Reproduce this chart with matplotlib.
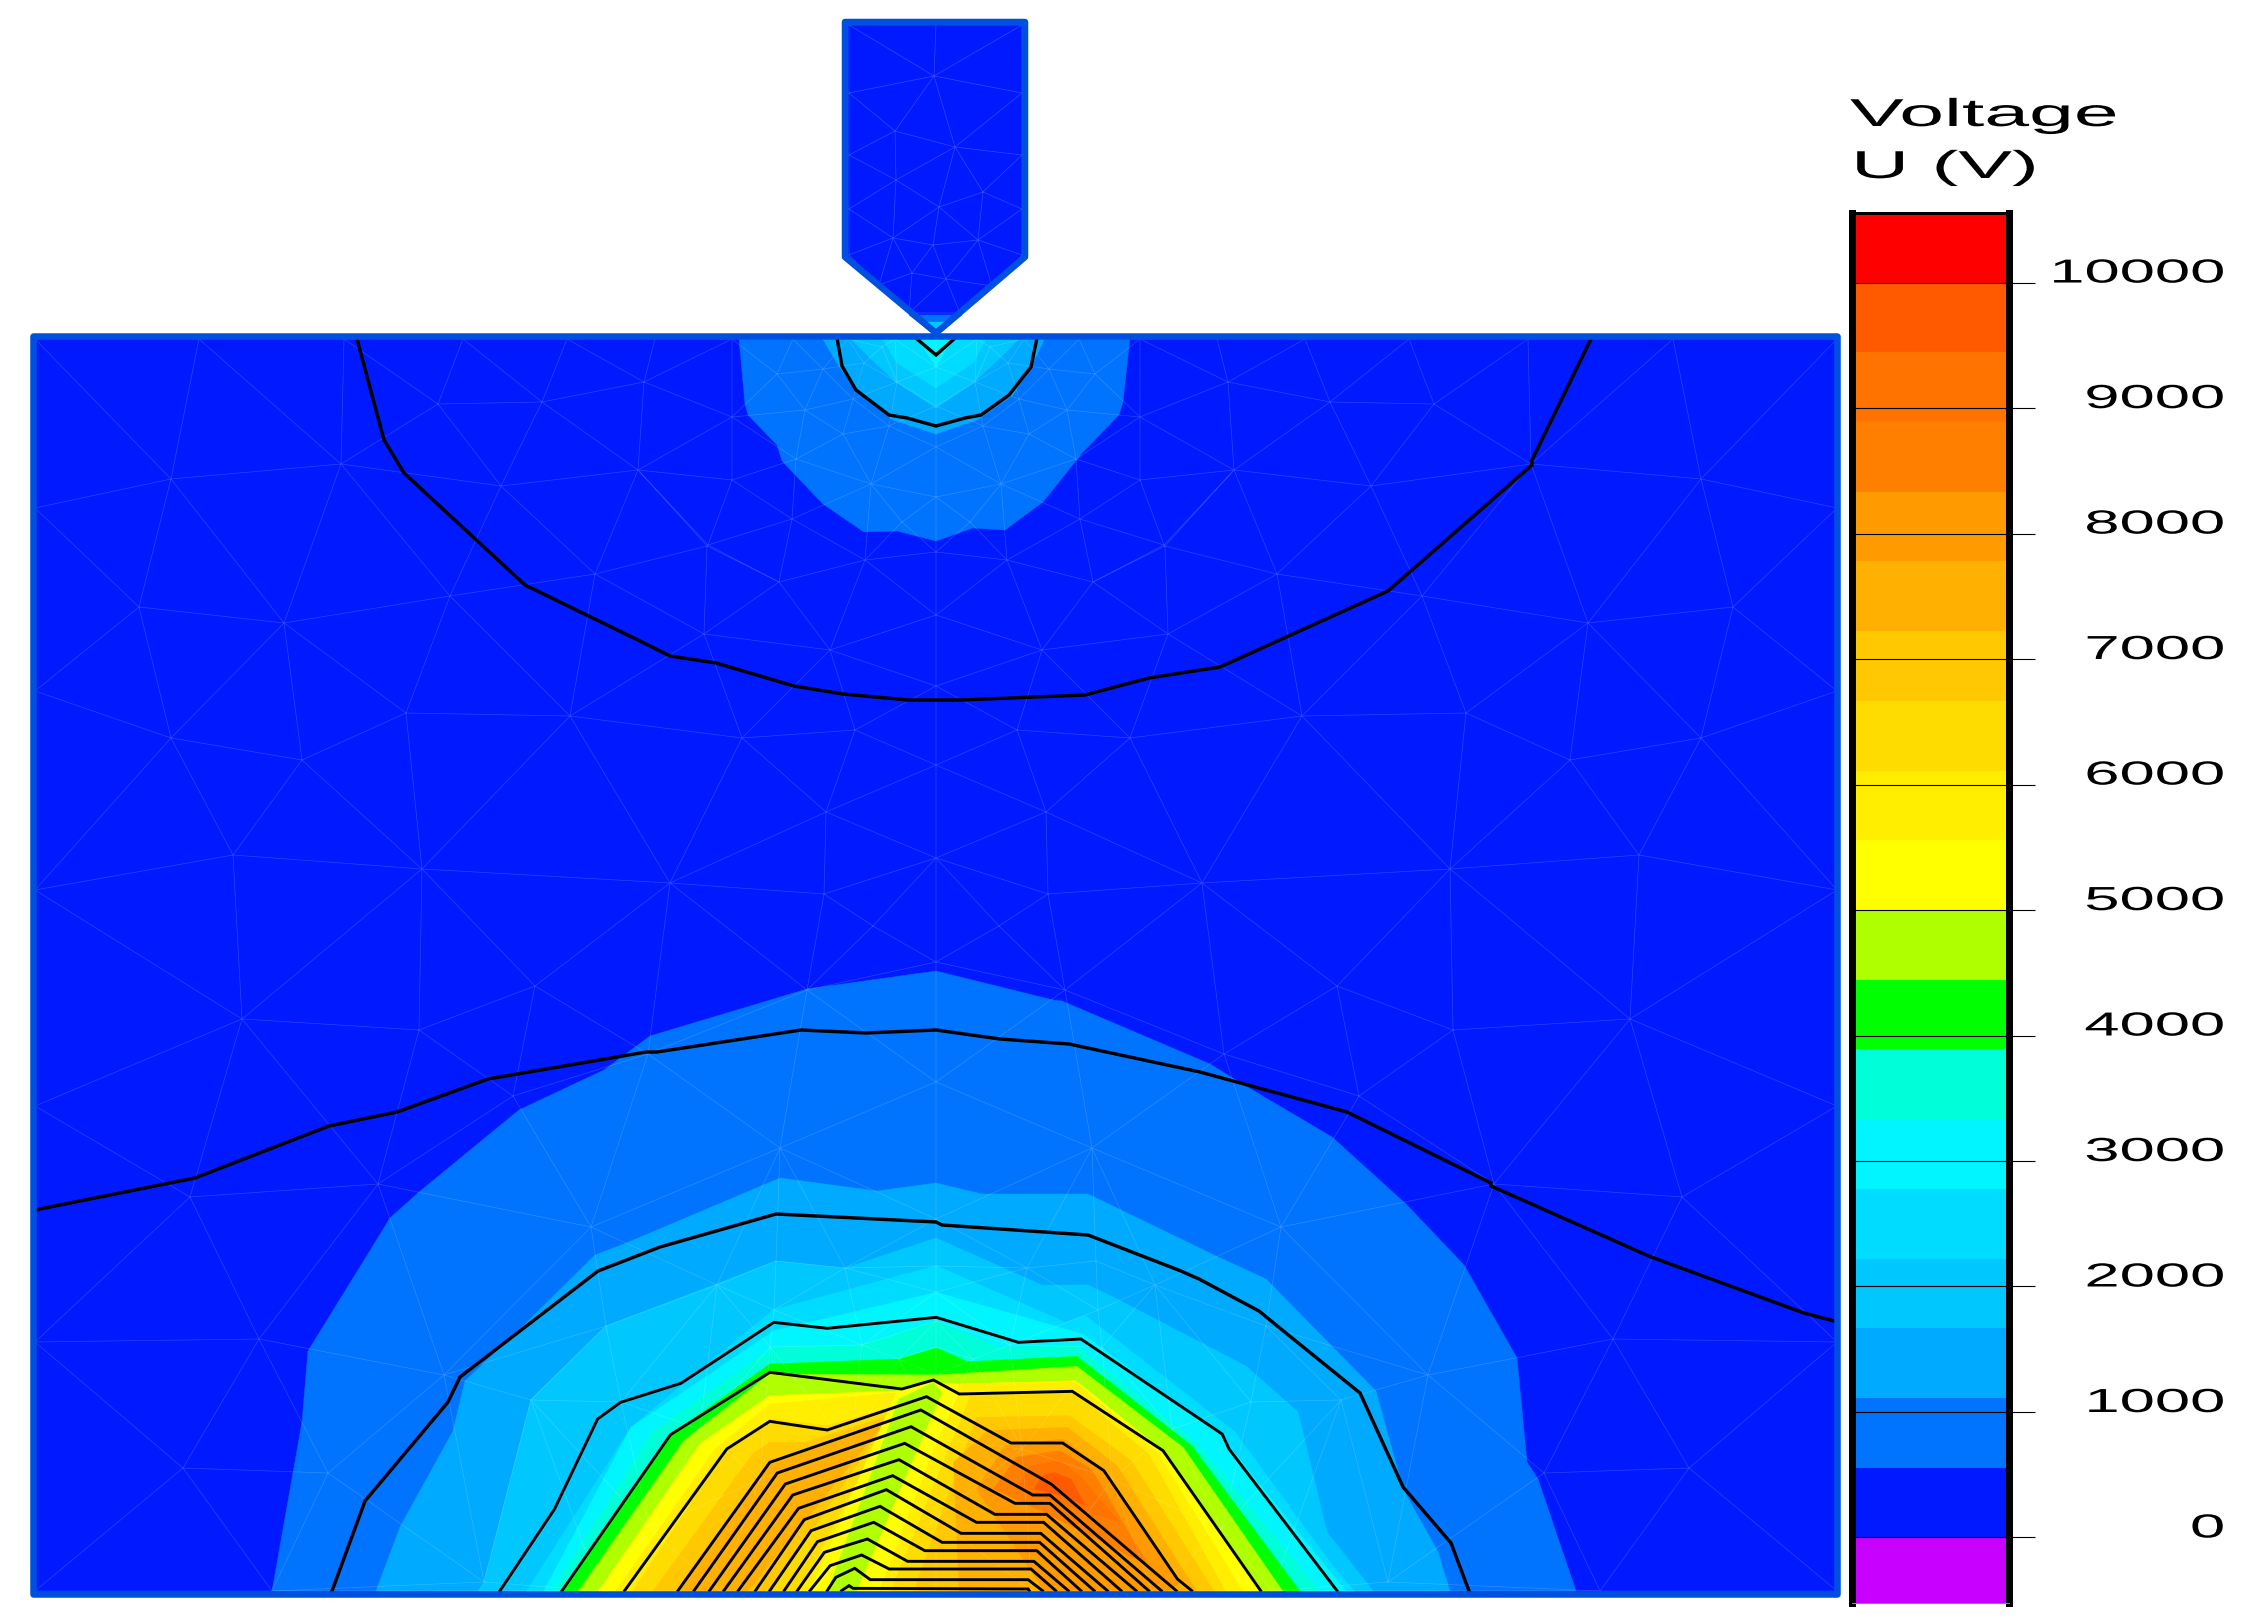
import matplotlib
matplotlib.use('Agg')
import matplotlib.pyplot as plt
import matplotlib.tri as mtri
import matplotlib.patheffects as pe
from matplotlib.patches import Polygon, Rectangle
from matplotlib.transforms import Affine2D, Bbox

plt.rcParams['font.family'] = ['Liberation Sans', 'DejaVu Sans']

W, H = 2264, 1624

# colour scale
tick_values = [0, 1000, 2000, 3000, 4000, 5000, 6000, 7000, 8000, 9000, 10000]
band_edges = [-522, 0, 556, 1111, 1667, 2222, 2778, 3333, 3889, 4444, 5000, 5556,
              6111, 6667, 7222, 7778, 8333, 8889, 9444, 10000, 10554]
band_colors = ['#c800ff', '#0019ff', '#0073ff', '#00aaff', '#00c8ff', '#00dcff', '#00f5ff',
               '#00ffd9', '#00ff00', '#b0ff00', '#ffff00', '#ffee00', '#ffdc00', '#ffc800',
               '#ffb000', '#ff9a00', '#ff8000', '#ff7300', '#ff5a00', '#ff0000']
BLUE, C1, C2, C3, C4, C5, TEAL, GREEN, LIME, YEL, Y1, Y2, Y3, O1, O2, O3, O4, O5 = band_colors[1:19]

# electrode and domain outlines (pixels of the picture)
electrode = [(845, 23), (1025, 23), (1025, 258), (936, 334), (845, 258)]
electrode_tip1 = [(909, 316), (962, 316), (936, 337)]
electrode_tip2 = [(925, 323), (947, 323), (936, 335)]
domain_x = [33, 1837]
domain_y = [337, 1595]

# mesh nodes, left half, mirrored about the centre line
mesh_left = [(35, 340), (199, 340), (344, 340), (463, 340), (567, 340), (655, 340), (732, 340), (793, 340),
             (848, 340), (895, 340), (35, 509), (35, 692), (35, 891), (35, 1107), (35, 1343), (35, 1592),
             (171, 480), (341, 465), (438, 405), (542, 403), (644, 383), (501, 487), (638, 471),
             (139, 608), (284, 624), (450, 597), (595, 575), (171, 739), (406, 714), (570, 717), (302, 761),
             (233, 856), (422, 870), (242, 1020), (419, 1031), (535, 987), (190, 1198), (378, 1185),
             (513, 1097), (591, 1228), (648, 1055), (707, 547), (792, 520), (865, 561), (779, 583),
             (704, 635), (830, 651), (742, 739), (855, 731), (826, 813), (670, 884), (824, 895), (873, 927),
             (807, 991), (780, 1149), (776, 1262), (845, 1269), (717, 1286), (606, 1327), (774, 1311),
             (531, 1401), (621, 1403), (862, 1346), (770, 1348), (899, 1360), (259, 1340), (183, 1469),
             (328, 1474), (444, 1376), (272, 1592), (484, 1583), (700, 1430), (760, 1480), (850, 1450),
             (650, 1530), (600, 1592), (720, 1592), (840, 1592), (777, 375), (823, 370), (805, 411),
             (732, 418), (732, 481), (796, 460), (843, 435), (853, 400), (864, 364), (871, 485),
             (708, 546), (897, 383), (889, 427), (902, 523), (882, 348)]
mesh_centre = [(936, 340), (936, 368), (936, 407), (936, 448), (936, 498), (936, 553), (936, 616), (936, 687),
               (936, 766), (936, 859), (936, 963), (936, 1083), (936, 1220), (936, 1267), (936, 1293),
               (936, 1322), (936, 1348), (936, 1376), (936, 1440), (936, 1520), (936, 1592)]
electrode_nodes = [(849, 26), (1022, 26), (936, 26), (849, 94), (1022, 94), (934, 77), (895, 132), (955, 148),
                   (849, 156), (1022, 156), (896, 181), (983, 193), (849, 210), (1022, 210), (939, 208),
                   (893, 239), (978, 241), (933, 246), (849, 256), (1022, 256), (912, 274), (946, 280),
                   (879, 286), (992, 287), (909, 314), (960, 314), (936, 334)]

# filled bands near the electrode
top_band1 = [(739, 339), (745, 405), (748, 416), (777, 446), (782, 462), (823, 505), (864, 533), (897, 532),
             (936, 542), (973, 529), (1005, 531), (1043, 503), (1083, 453), (1119, 416), (1123, 403), (1130, 339)]
top_band2 = [(822, 339), (837, 364), (855, 391), (893, 421), (936, 435), (977, 421), (1013, 396), (1033, 364), (1045, 339)]
top_band3 = [(850, 339), (870, 359), (897, 384), (936, 409), (973, 384), (1000, 359), (1020, 339)]
top_band4 = [(882, 339), (897, 364), (936, 389), (973, 364), (987, 339)]
top_band5 = [(917, 339), (936, 368), (953, 339)]

# filled bands of the lower dome
low_band1 = [(272, 1592), (293, 1474), (302, 1423), (308, 1352), (371, 1250), (390, 1219), (419, 1193), (519, 1111),
             (604, 1071), (650, 1037), (807, 990), (936, 972), (1053, 1001), (1062, 1002), (1210, 1065), (1244, 1086),
             (1332, 1138), (1406, 1205), (1464, 1266), (1517, 1359), (1527, 1463), (1538, 1480), (1576, 1592)]
low_band2 = [(376, 1592), (400, 1528), (453, 1432), (465, 1382), (520, 1330), (595, 1256), (624, 1245), (780, 1179),
             (877, 1192), (936, 1184), (982, 1195), (1088, 1195), (1216, 1257), (1266, 1280), (1315, 1330),
             (1376, 1392), (1403, 1490), (1438, 1553), (1450, 1592)]
low_band3 = [(478, 1592), (484, 1583), (531, 1400), (606, 1327), (776, 1262), (845, 1269), (936, 1239), (1042, 1286),
             (1088, 1286), (1117, 1300), (1246, 1367), (1298, 1413), (1327, 1533), (1373, 1592)]

core_band4 = [(45, 1030), (228, 535), (475, 183), (760, 50), (985, 220), (1020, 200), (1280, 548), (1446, 940), (1490, 1030)]
core_band5 = [(75, 1030), (228, 535), (477, 245), (760, 130), (905, 200), (1015, 255), (1255, 560), (1475, 1030)]
core_teal = [(90, 1030), (265, 550), (477, 295), (630, 288), (760, 217), (870, 295), (1005, 290), (1215, 585), (1430, 1030)]
core_green = [(108, 1030), (295, 560), (470, 345), (695, 330), (760, 297), (815, 338), (1005, 322), (1205, 590), (1395, 1030)]
core_lime = [(135, 1030), (320, 575), (470, 375), (760, 378), (1005, 352), (1190, 595), (1365, 1030)]
core_yellow = [(170, 1030), (348, 585), (470, 440), (700, 425), (755, 400), (800, 405), (1003, 395), (1155, 605), (1325, 1030)]

left_y1 = [(200, 1030), (375, 600), (470, 465), (700, 430), (540, 1030)]
left_y2 = [(230, 1030), (395, 600), (470, 510), (570, 530), (690, 470), (520, 1030)]
left_y3 = [(265, 1030), (440, 615), (470, 580), (530, 580), (680, 500), (470, 1030)]
left_o1 = [(310, 1030), (470, 640), (670, 520), (430, 1030)]

right_y1 = [(800, 405), (1003, 400), (1145, 610), (1295, 1030), (660, 1030)]
right_y2 = [(820, 440), (1000, 430), (1130, 615), (1265, 1030), (680, 1030)]
right_y3 = [(830, 505), (992, 500), (1100, 635), (1245, 1030), (720, 1030)]
right_o1 = [(850, 545), (988, 535), (1075, 650), (1215, 1030), (800, 1030), (790, 640)]
right_o2 = [(880, 590), (980, 570), (1050, 660), (1185, 1000), (1160, 1030), (950, 1030), (830, 720)]
right_o3 = [(900, 625), (975, 605), (1030, 660), (1130, 950), (960, 800), (860, 720)]
right_o4 = [(925, 650), (975, 635), (1010, 680), (1080, 820), (990, 770), (900, 720)]
right_o5 = [(945, 680), (965, 670), (995, 690), (1020, 770), (980, 740), (930, 720)]

strip_yellow = [(760, 395), (800, 430), (640, 1030), (540, 1030), (690, 430)]
strip_lime = [(755, 400), (770, 430), (620, 1030), (570, 1030), (695, 450)]

# contour lines
line_top_inner = [(917, 340), (936, 356), (954, 340)]
line_top_mid = [(837, 339), (842, 367), (856, 391), (889, 416), (907, 419), (936, 427), (965, 419), (981, 416),
                (1009, 396), (1031, 368), (1037, 339)]
line_top_outer = [(357, 340), (384, 441), (404, 474), (525, 586), (640, 642), (670, 657), (716, 664), (794, 687),
                  (843, 695), (908, 701), (961, 701), (1085, 696), (1149, 679), (1220, 668), (1388, 592),
                  (1532, 466), (1532, 461), (1591, 340)]
line_low_outer = [(35, 1211), (195, 1179), (329, 1127), (397, 1113), (488, 1080), (646, 1053), (657, 1053), (801, 1031),
                  (866, 1034), (936, 1031), (1000, 1040), (1069, 1045), (1200, 1073), (1347, 1113), (1491, 1184),
                  (1491, 1187), (1651, 1258), (1804, 1314), (1834, 1322)]
line_low_mid = [(332, 1592), (365, 1502), (448, 1403), (460, 1378), (598, 1272), (660, 1248), (776, 1215), (936, 1223),
                (942, 1226), (1088, 1236), (1181, 1272), (1199, 1280), (1259, 1312), (1281, 1330), (1360, 1394),
                (1403, 1488), (1451, 1544), (1469, 1592)]
core_lines = [
    [(0, 1025), (95, 780), (170, 510), (210, 460), (315, 403), (477, 220), (570, 238), (760, 205), (903, 280),
     (1012, 270), (1258, 555), (1270, 600), (1458, 1025)],
    [(108, 1025), (297, 557), (470, 370), (700, 420), (755, 393), (800, 435), (997, 427), (1155, 605), (1325, 1025)],
    [(217, 1025), (395, 600), (470, 517), (570, 543), (743, 443), (890, 582), (980, 582), (1052, 665), (1180, 990), (1205, 1025)],
    [(310, 1025), (470, 640), (733, 483), (960, 705), (1178, 1025)],
    [(338, 1025), (483, 672), (716, 533), (928, 738), (958, 738), (1152, 1025)],
    [(365, 1025), (497, 705), (705, 583), (897, 763), (958, 763), (1130, 1025)],
    [(390, 1025), (510, 738), (695, 632), (862, 796), (952, 796), (1108, 1025)],
    [(415, 1025), (520, 778), (684, 680), (830, 820), (947, 820), (1082, 1025)],
    [(445, 1025), (530, 812), (673, 722), (803, 853), (942, 853), (1058, 1025)],
    [(470, 1025), (542, 845), (662, 772), (770, 880), (940, 880), (1035, 1025)],
    [(495, 1025), (553, 878), (651, 820), (740, 905), (935, 905), (1012, 1025)],
    [(518, 1025), (565, 910), (640, 870), (710, 937), (930, 937), (990, 1025)],
    [(540, 1025), (575, 950), (630, 918), (678, 960), (925, 960), (968, 1025)],
    [(570, 1025), (585, 985), (618, 958), (645, 992), (920, 992), (945, 1025)],
    [(595, 1025), (608, 1010), (615, 1018), (920, 1020), (922, 1025)],
]


def core(pts):
    return [(500 + x / 1.742, 1250 + y / 3) for x, y in pts]


class Stretch(pe.AbstractPathEffect):
    # the reference text is much wider than any installed font
    def __init__(self, sx, right=False):
        self.sx = sx
        self.right = right

    def draw_path(self, renderer, gc, tpath, affine, rgbFace=None):
        x0 = tpath.get_extents().x1 if self.right else 0
        t = Affine2D().translate(-x0, 0).scale(self.sx, 1).translate(x0, 0) + affine
        renderer.draw_path(gc, tpath, t, rgbFace)


def px(n):
    return n * 72 / 100


fig = plt.figure(figsize=(W / 100, H / 100), dpi=100, facecolor='white')
ax = fig.add_axes([0, 0, 1, 1])
ax.set_xlim(0, W)
ax.set_ylim(H, 0)
ax.axis('off')

# domain fill and bands
ax.add_patch(Rectangle((domain_x[0], domain_y[0]), domain_x[1] - domain_x[0], domain_y[1] - domain_y[0],
                       facecolor=BLUE, edgecolor='none', zorder=1))
ax.add_patch(Polygon(electrode, closed=True, facecolor=BLUE, edgecolor='none', zorder=1))

full_bands = [(top_band1, C1), (top_band2, C2), (top_band3, C3), (top_band4, C4), (top_band5, C5),
              (low_band1, C1), (low_band2, C2), (low_band3, C3),
              (electrode_tip1, C1), (electrode_tip2, C3)]
crop_bands = [(core_band4, C4), (core_band5, C5), (core_teal, TEAL), (core_green, GREEN), (core_lime, LIME),
              (core_yellow, YEL), (left_y1, Y1), (left_y2, Y2), (left_y3, Y3), (left_o1, O1),
              (right_y1, Y1), (right_y2, Y2), (right_y3, Y3), (right_o1, O1), (right_o2, O2), (right_o3, O3),
              (right_o4, O4), (right_o5, O5), (strip_yellow, YEL), (strip_lime, LIME)]
for pts, col in full_bands:
    ax.add_patch(Polygon(pts, closed=True, facecolor=col, edgecolor=col, lw=0.3, zorder=2))
for pts, col in crop_bands:
    ax.add_patch(Polygon(core(pts), closed=True, facecolor=col, edgecolor=col, lw=0.3, zorder=2))

# mesh
mesh_pts = mesh_left + [(2 * 936 - x, y) for x, y in mesh_left] + mesh_centre
mx = [p[0] for p in mesh_pts]
my = [p[1] for p in mesh_pts]
ax.triplot(mtri.Triangulation(mx, my), color='white', alpha=0.18, lw=0.5, zorder=3)
ex = [p[0] for p in electrode_nodes]
ey = [p[1] for p in electrode_nodes]
ax.triplot(mtri.Triangulation(ex, ey), color='white', alpha=0.2, lw=0.5, zorder=3)

# contours
for pts in [line_top_inner, line_top_mid, line_top_outer, line_low_outer, line_low_mid]:
    ax.plot([p[0] for p in pts], [p[1] for p in pts], color='black', lw=px(3.4), solid_joinstyle='miter', zorder=4)
for pts in core_lines:
    c = core(pts)
    ax.plot([p[0] for p in c], [p[1] for p in c], color='black', lw=px(2.9), solid_joinstyle='miter', zorder=4)

# outlines
ax.add_patch(Rectangle((domain_x[0], domain_y[0]), domain_x[1] - domain_x[0], domain_y[1] - domain_y[0],
                       facecolor='none', edgecolor='#0050e0', lw=px(6.5), joinstyle='round', zorder=5))
ax.add_patch(Polygon(electrode, closed=True, facecolor='none', edgecolor='#0050e0', lw=px(6.5),
                     joinstyle='round', zorder=6))

# legend title
ax.text(1850, 127, 'Voltage', fontsize=28, ha='left', va='baseline', color='black',
        path_effects=[Stretch(2.07)], zorder=7)
ax.text(1851, 179, 'U (V)', fontsize=28, ha='left', va='baseline', color='black',
        path_effects=[Stretch(2.07)], zorder=7)

# colour bar
cb = fig.add_axes([1852 / W, 1 - 1604 / H, 157 / W, (1604 - 214) / H])
bottoms = band_edges[:-1]
heights = [b - a for a, b in zip(band_edges[:-1], band_edges[1:])]
cb.bar([0.5] * len(heights), heights, bottom=bottoms, width=1, color=band_colors, linewidth=0)
cb.set_xlim(0, 1)
cb.set_ylim(band_edges[0], band_edges[-1])
cb.set_xticks([])
cb.hlines(tick_values, 0, 1, color='black', lw=0.8)
cb.yaxis.tick_right()
cb.set_yticks(tick_values)
cb.set_yticklabels([str(v) for v in tick_values])
cb.tick_params(axis='y', length=px(26), width=0.8, pad=px(189), labelsize=24)
clip = Bbox([[0, 0], [2224, H]])
for lab in cb.get_yticklabels():
    lab.set_ha('right')
    lab.set_va('baseline')
    lab.set_path_effects([Stretch(1.9, right=True)])
    lab.set_clip_box(clip)
    lab.set_clip_on(True)
cb.spines['left'].set_linewidth(px(7))
cb.spines['right'].set_linewidth(px(7))
cb.spines['top'].set_linewidth(px(3))
cb.spines['bottom'].set_linewidth(px(1))
cb.spines['bottom'].set_color('#888888')

fig.savefig('out.png', dpi=100, facecolor='white')
